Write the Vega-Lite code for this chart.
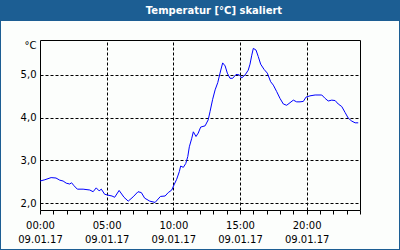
{
  "$schema": "https://vega.github.io/schema/vega-lite/v6.json",
  "width": 398,
  "height": 228,
  "autosize": {"type": "none"},
  "padding": {"left": 1, "right": 1, "top": 21, "bottom": 1},
  "background": "#1c5e93",
  "title": {"text": "Temperatur [°C] skaliert", "color": "white", "font": "DejaVu Sans", "fontSize": 10, "fontWeight": "bold", "anchor": "middle", "frame": "group", "offset": 5, "dx": 14},
  "config": {"view": {"fill": "#fcfefc", "stroke": null}, "font": "DejaVu Sans"},
  "data": {"values": [
    {"t": "2017-01-09T00:00", "v": 2.52},
    {"t": "2017-01-09T00:22", "v": 2.55},
    {"t": "2017-01-09T00:50", "v": 2.60},
    {"t": "2017-01-09T01:12", "v": 2.59},
    {"t": "2017-01-09T01:29", "v": 2.54},
    {"t": "2017-01-09T01:44", "v": 2.52},
    {"t": "2017-01-09T01:58", "v": 2.47},
    {"t": "2017-01-09T02:14", "v": 2.45},
    {"t": "2017-01-09T02:22", "v": 2.48},
    {"t": "2017-01-09T02:33", "v": 2.41},
    {"t": "2017-01-09T02:48", "v": 2.33},
    {"t": "2017-01-09T03:14", "v": 2.33},
    {"t": "2017-01-09T03:44", "v": 2.31},
    {"t": "2017-01-09T03:59", "v": 2.27},
    {"t": "2017-01-09T04:13", "v": 2.36},
    {"t": "2017-01-09T04:26", "v": 2.29},
    {"t": "2017-01-09T04:36", "v": 2.33},
    {"t": "2017-01-09T04:51", "v": 2.21},
    {"t": "2017-01-09T05:06", "v": 2.19},
    {"t": "2017-01-09T05:24", "v": 2.17},
    {"t": "2017-01-09T05:36", "v": 2.14},
    {"t": "2017-01-09T05:56", "v": 2.30},
    {"t": "2017-01-09T06:18", "v": 2.14},
    {"t": "2017-01-09T06:37", "v": 2.05},
    {"t": "2017-01-09T06:59", "v": 2.15},
    {"t": "2017-01-09T07:21", "v": 2.27},
    {"t": "2017-01-09T07:36", "v": 2.25},
    {"t": "2017-01-09T07:51", "v": 2.12},
    {"t": "2017-01-09T08:14", "v": 2.05},
    {"t": "2017-01-09T08:38", "v": 2.02},
    {"t": "2017-01-09T09:02", "v": 2.16},
    {"t": "2017-01-09T09:23", "v": 2.17},
    {"t": "2017-01-09T09:37", "v": 2.25},
    {"t": "2017-01-09T09:53", "v": 2.31},
    {"t": "2017-01-09T10:03", "v": 2.43},
    {"t": "2017-01-09T10:15", "v": 2.56},
    {"t": "2017-01-09T10:27", "v": 2.74},
    {"t": "2017-01-09T10:33", "v": 2.87},
    {"t": "2017-01-09T10:45", "v": 2.84},
    {"t": "2017-01-09T10:56", "v": 2.93},
    {"t": "2017-01-09T11:05", "v": 3.09},
    {"t": "2017-01-09T11:12", "v": 3.32},
    {"t": "2017-01-09T11:23", "v": 3.52},
    {"t": "2017-01-09T11:30", "v": 3.67},
    {"t": "2017-01-09T11:42", "v": 3.56},
    {"t": "2017-01-09T11:52", "v": 3.64},
    {"t": "2017-01-09T12:03", "v": 3.78},
    {"t": "2017-01-09T12:23", "v": 3.81},
    {"t": "2017-01-09T12:37", "v": 3.95},
    {"t": "2017-01-09T12:45", "v": 4.14},
    {"t": "2017-01-09T12:57", "v": 4.43},
    {"t": "2017-01-09T13:08", "v": 4.65},
    {"t": "2017-01-09T13:20", "v": 4.82},
    {"t": "2017-01-09T13:30", "v": 5.04},
    {"t": "2017-01-09T13:42", "v": 5.28},
    {"t": "2017-01-09T13:53", "v": 5.21},
    {"t": "2017-01-09T14:03", "v": 5.04},
    {"t": "2017-01-09T14:15", "v": 4.92},
    {"t": "2017-01-09T14:27", "v": 4.92},
    {"t": "2017-01-09T14:42", "v": 5.01},
    {"t": "2017-01-09T14:57", "v": 5.00},
    {"t": "2017-01-09T15:08", "v": 4.93},
    {"t": "2017-01-09T15:23", "v": 5.00},
    {"t": "2017-01-09T15:37", "v": 5.11},
    {"t": "2017-01-09T15:45", "v": 5.25},
    {"t": "2017-01-09T15:53", "v": 5.46},
    {"t": "2017-01-09T16:00", "v": 5.62},
    {"t": "2017-01-09T16:12", "v": 5.58},
    {"t": "2017-01-09T16:22", "v": 5.43},
    {"t": "2017-01-09T16:33", "v": 5.25},
    {"t": "2017-01-09T16:48", "v": 5.13},
    {"t": "2017-01-09T17:03", "v": 5.04},
    {"t": "2017-01-09T17:18", "v": 4.84},
    {"t": "2017-01-09T17:30", "v": 4.76},
    {"t": "2017-01-09T17:45", "v": 4.61},
    {"t": "2017-01-09T18:00", "v": 4.45},
    {"t": "2017-01-09T18:15", "v": 4.32},
    {"t": "2017-01-09T18:30", "v": 4.29},
    {"t": "2017-01-09T18:45", "v": 4.35},
    {"t": "2017-01-09T19:00", "v": 4.41},
    {"t": "2017-01-09T19:15", "v": 4.37},
    {"t": "2017-01-09T19:30", "v": 4.37},
    {"t": "2017-01-09T19:45", "v": 4.38},
    {"t": "2017-01-09T19:57", "v": 4.48},
    {"t": "2017-01-09T20:15", "v": 4.51},
    {"t": "2017-01-09T20:38", "v": 4.53},
    {"t": "2017-01-09T21:08", "v": 4.53},
    {"t": "2017-01-09T21:23", "v": 4.45},
    {"t": "2017-01-09T21:37", "v": 4.39},
    {"t": "2017-01-09T21:53", "v": 4.41},
    {"t": "2017-01-09T22:08", "v": 4.40},
    {"t": "2017-01-09T22:22", "v": 4.32},
    {"t": "2017-01-09T22:38", "v": 4.26},
    {"t": "2017-01-09T22:53", "v": 4.12},
    {"t": "2017-01-09T23:07", "v": 3.99},
    {"t": "2017-01-09T23:23", "v": 3.92},
    {"t": "2017-01-09T23:38", "v": 3.88},
    {"t": "2017-01-09T23:52", "v": 3.88}
  ]},
  "resolve": {"axis": {"x": "independent", "y": "independent"}},
  "layer": [
    {
      "mark": {"type": "line", "color": "#0000ff", "strokeWidth": 1},
      "encoding": {
        "x": {
          "field": "t", "type": "temporal",
          "scale": {"domain": [{"year": 2017, "month": 1, "date": 9}, {"year": 2017, "month": 1, "date": 10}], "range": [39, 359], "nice": false},
          "axis": {
            "orient": "bottom", "offset": -39, "title": null, "grid": false,
            "domain": true, "domainColor": "black",
            "ticks": true, "tickColor": "black", "tickSize": 4,
            "tickCount": 24,
            "labelExpr": "indexof(['00:00','05:00','10:00','15:00','20:00'], timeFormat(datum.value, '%H:%M')) >= 0 && timeFormat(datum.value, '%d') == '09' ? [timeFormat(datum.value, '%H:%M'), timeFormat(datum.value, '%d.%m.%y')] : ''",
            "labelOverlap": false, "labelFlush": false,
            "labelFont": "DejaVu Sans", "labelFontSize": 10, "labelColor": "black",
            "labelPadding": 6, "labelLineHeight": 14, "labelBaseline": "top", "labelAlign": "center"
          }
        },
        "y": {
          "field": "v", "type": "quantitative",
          "scale": {"domain": [1.843, 5.815], "range": [189, 19], "nice": false, "zero": false},
          "axis": {
            "orient": "left", "offset": -39,
            "title": "°C", "titleAngle": 0, "titleAlign": "right", "titleBaseline": "middle",
            "titleX": -4, "titleY": 24, "titleFont": "DejaVu Sans", "titleFontSize": 10,
            "titleFontWeight": "normal", "titleColor": "black",
            "values": [2, 3, 4, 5],
            "labelExpr": "replace(format(datum.value, '.1f'), '.', ',')",
            "ticks": false, "labelPadding": 4,
            "domain": true, "domainColor": "black",
            "grid": true, "gridColor": "black", "gridDash": [3, 2], "gridOpacity": 1,
            "labelFont": "DejaVu Sans", "labelFontSize": 10, "labelColor": "black"
          }
        }
      }
    },
    {
      "mark": {"type": "line", "strokeOpacity": 0},
      "encoding": {
        "x": {
          "field": "t", "type": "temporal",
          "axis": {
            "orient": "top", "offset": -19, "title": null, "labels": false, "ticks": false,
            "domain": true, "domainColor": "black",
            "grid": true, "gridColor": "black", "gridDash": [3, 2], "gridOpacity": 1,
            "values": [
              {"year": 2017, "month": 1, "date": 9, "hours": 5},
              {"year": 2017, "month": 1, "date": 9, "hours": 10},
              {"year": 2017, "month": 1, "date": 9, "hours": 15},
              {"year": 2017, "month": 1, "date": 9, "hours": 20}
            ]
          }
        },
        "y": {
          "field": "v", "type": "quantitative",
          "axis": {"orient": "right", "offset": -39, "title": null, "labels": false, "ticks": false, "grid": false, "domain": true, "domainColor": "black"}
        }
      }
    }
  ]
}
